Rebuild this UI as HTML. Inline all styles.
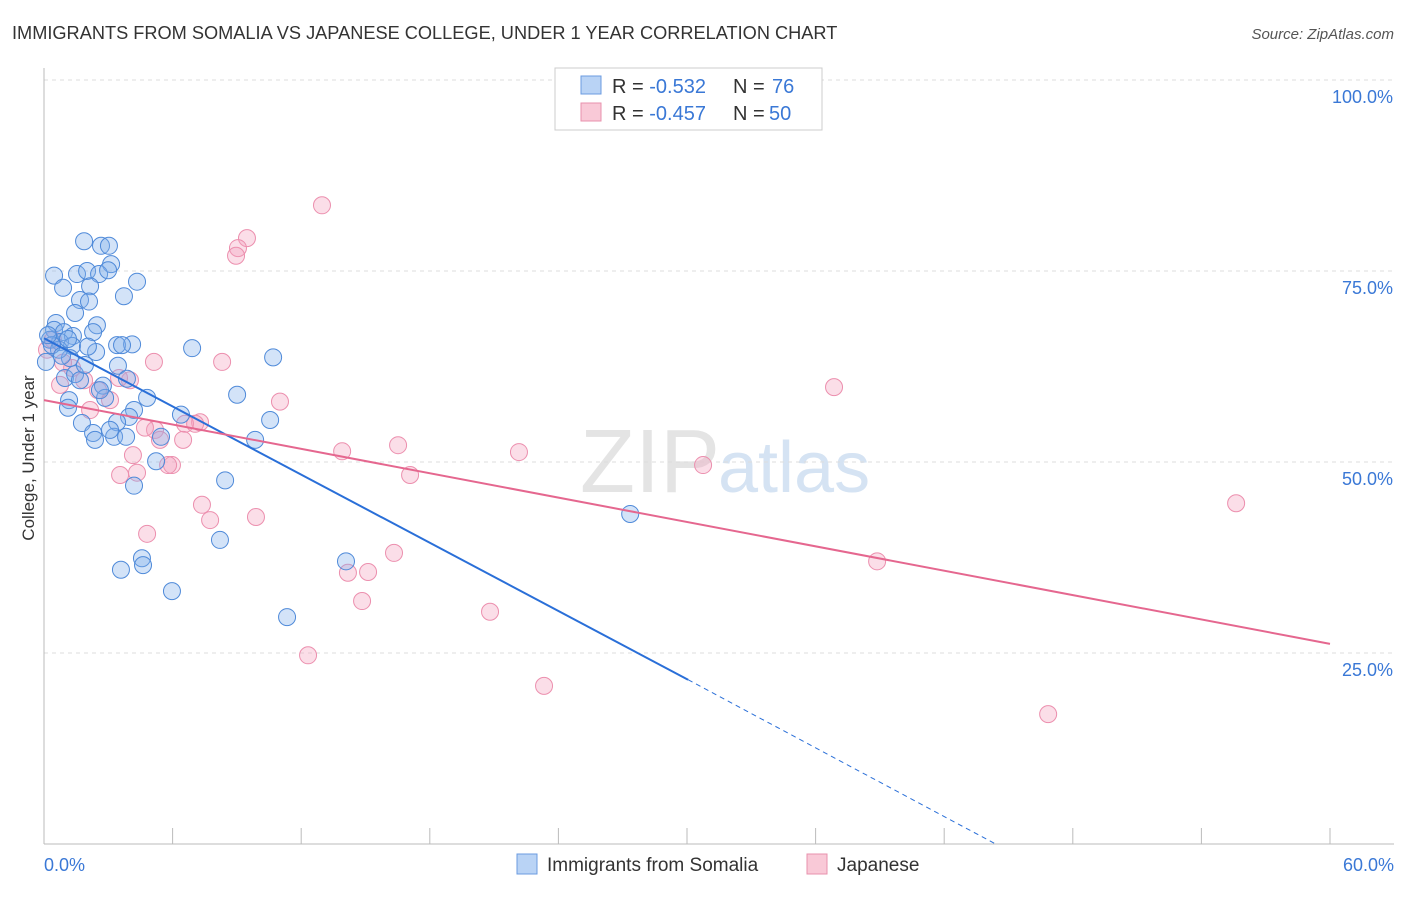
<!DOCTYPE html>
<html><head><meta charset="utf-8"><style>
body{margin:0;background:#fff;font-family:"Liberation Sans",sans-serif}
svg text{font-family:"Liberation Sans",sans-serif}
</style></head><body>
<svg id="chart" width="1406" height="892">
<text x="12" y="39" font-size="18.2" fill="#333">IMMIGRANTS FROM SOMALIA VS JAPANESE COLLEGE, UNDER 1 YEAR CORRELATION CHART</text>
<text x="1394" y="39" font-size="15" fill="#555" font-style="italic" text-anchor="end">Source: ZipAtlas.com</text>
<text x="720" y="492" font-size="90" fill="#e4e4e4" font-family="Liberation Serif" text-anchor="end">ZIP</text>
<text x="718" y="492" font-size="72" fill="#d5e3f3">atlas</text>
<g id="grid"></g><g id="axes"></g><g id="pts"></g><g id="lines"></g>
<text transform="translate(34,458) rotate(-90)" font-size="17" fill="#333" text-anchor="middle">College, Under 1 year</text>
<g>
<rect x="555" y="68" width="267" height="62" fill="#fff" stroke="#ccc"/>
<rect x="581" y="76" width="20" height="18" fill="#b9d3f5" stroke="#6b9be0"/>
<text x="612" y="93" font-size="20" fill="#333">R = <tspan fill="#3a78d6">-0.532</tspan></text>
<text x="733" y="93" font-size="20" fill="#333">N = </text>
<text x="772" y="93" font-size="20" fill="#3a78d6">76</text>
<rect x="581" y="103" width="20" height="18" fill="#f9c9d7" stroke="#e891ac"/>
<text x="612" y="120" font-size="20" fill="#333">R = <tspan fill="#3a78d6">-0.457</tspan></text>
<text x="733" y="120" font-size="20" fill="#333">N = </text>
<text x="769" y="120" font-size="20" fill="#3a78d6">50</text>
</g>
<g>
<rect x="517" y="854" width="20" height="20" fill="#b9d3f5" stroke="#6b9be0"/>
<text x="547" y="871" font-size="19" fill="#333">Immigrants from Somalia</text>
<rect x="807" y="854" width="20" height="20" fill="#f9c9d7" stroke="#e891ac"/>
<text x="837" y="871" font-size="19" fill="#333">Japanese</text>
</g>
</svg>
<script>
const xTicks=[0,6,12,18,24,30,36,42,48,54,60];
const yTicks=[25,50,75,100];
const blueX=[1.87,2.66,3.03,3.13,0.47,1.54,2.01,2.57,2.99,4.34,0.89,2.15,1.68,2.10,3.73,1.45,0.56,2.47,0.47,0.93,2.29,1.35,0.28,0.75,1.31,2.43,2.05,3.41,4.11,3.64,6.91,10.69,0.09,1.21,3.45,0.98,2.75,3.87,1.45,9.01,1.17,4.81,2.85,1.12,4.20,6.39,10.55,1.77,3.97,3.41,2.29,3.27,3.83,5.46,9.85,5.23,8.45,4.20,27.35,8.21,4.57,14.09,4.62,3.59,5.97,11.34,0.70,0.37,0.84,1.68,2.61,0.19,1.12,3.08,1.91,2.38];
const blueY=[78.9,78.3,78.3,75.9,74.4,74.6,75.0,74.6,75.1,73.6,72.8,73.0,71.2,71.0,71.7,69.5,68.2,67.9,67.3,67.0,67.0,66.5,66.0,65.7,65.2,64.4,65.1,65.3,65.4,65.3,64.9,63.7,63.1,63.6,62.6,61.0,60.0,60.9,61.5,58.8,58.1,58.4,58.4,57.1,56.8,56.2,55.5,55.1,55.9,55.2,53.8,53.3,53.3,53.3,52.9,50.1,47.6,46.9,43.2,39.8,37.4,37.0,36.5,35.9,33.1,29.7,64.7,65.3,63.9,60.7,59.4,66.6,66.1,54.2,62.7,52.9];
const pinkX=[12.97,9.47,9.05,8.96,8.31,5.13,0.14,0.42,1.31,1.87,0.75,2.52,3.08,4.01,3.50,2.15,5.18,4.71,7.28,6.58,7.05,6.49,5.97,5.79,5.41,4.15,3.55,4.34,11.01,13.91,16.52,17.08,22.16,30.75,36.86,7.37,7.75,9.89,4.81,16.33,14.18,15.12,14.84,20.81,12.32,23.33,38.87,46.85,55.62,0.89];
const pinkY=[83.6,79.3,78.0,77.0,63.1,63.1,64.7,66.0,62.3,60.7,60.1,59.4,58.1,60.7,61.0,56.8,54.2,54.5,55.2,55.0,55.0,52.9,49.6,49.6,52.9,50.9,48.3,48.6,57.9,51.4,52.2,48.3,51.3,49.6,59.8,44.4,42.4,42.8,40.6,38.1,35.5,35.6,31.8,30.4,24.7,20.7,37.0,17.0,44.6,63.0];
const blueTrend=[66.2,21.5,30.05,44.4];
const pinkTrend=[58.1,26.2];
const sx=v=>44+v/60*1286, sy=v=>844-v*7.64;
const NS='http://www.w3.org/2000/svg';
function mk(tag,attrs,parent){const e=document.createElementNS(NS,tag);for(const k in attrs)e.setAttribute(k,attrs[k]);document.getElementById(parent).appendChild(e);return e;}
yTicks.forEach(t=>{
 const g=mk('line',{x1:44,x2:1394,y1:sy(t),y2:sy(t),stroke:'#ddd','stroke-dasharray':'4,4'},'grid');
 
 
 const l=mk('text',{x:1393,y:sy(t)+23,'font-size':18,fill:'#3a78d6','text-anchor':'end'},'grid');l.textContent=t.toFixed(1)+'%';
 
 
});
const ax=mk('line',{x1:44,x2:1394,y1:844,y2:844,stroke:'#bbb'},'axes');


const ay=mk('line',{x1:44,x2:44,y1:68,y2:844,stroke:'#bbb'},'axes');


xTicks.forEach(t=>{
 const tk=mk('line',{x1:sx(t),x2:sx(t),y1:828,y2:844,stroke:'#bbb'},'axes');
 
 
});
const xl0=mk('text',{x:44,y:871,'font-size':18,fill:'#3a78d6'},'axes');xl0.textContent='0.0%';


const xl1=mk('text',{x:1394,y:871,'font-size':18,fill:'#3a78d6','text-anchor':'end'},'axes');xl1.textContent='60.0%';


pinkX.forEach((x,i)=>{
 const c=mk('circle',{cx:sx(x),cy:sy(pinkY[i]),r:8.5,fill:'rgba(244,160,188,0.35)',stroke:'#ec8fae','stroke-width':1},'pts');
 
 
});
blueX.forEach((x,i)=>{
 const c=mk('circle',{cx:sx(x),cy:sy(blueY[i]),r:8.5,fill:'rgba(130,175,235,0.35)',stroke:'#4f8ad9','stroke-width':1},'pts');
 
 
});
const bl=mk('line',{x1:sx(0),y1:sy(blueTrend[0]),x2:sx(blueTrend[2]),y2:sy(blueTrend[1]),stroke:'#2a6fd8','stroke-width':2},'lines');


const bd=mk('line',{x1:sx(blueTrend[2]),y1:sy(blueTrend[1]),x2:sx(blueTrend[3]),y2:sy(0),stroke:'#2a6fd8','stroke-width':1,'stroke-dasharray':'5,4'},'lines');


const pl=mk('line',{x1:sx(0),y1:sy(pinkTrend[0]),x2:sx(60),y2:sy(pinkTrend[1]),stroke:'#e5678f','stroke-width':2},'lines');


</script>
</body></html>
